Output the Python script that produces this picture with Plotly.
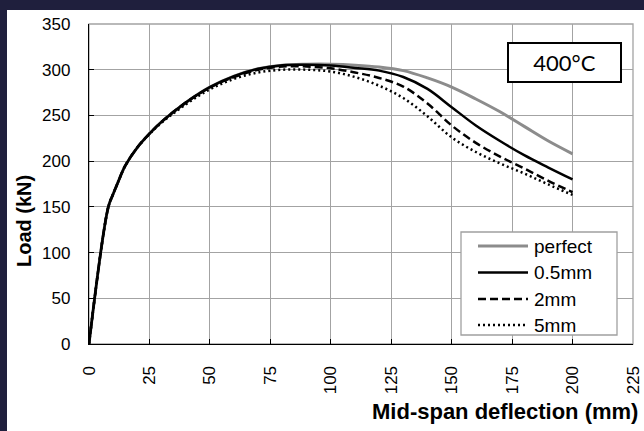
import plotly.graph_objects as go

# Mid-span deflection (mm) sample points shared by all series
deflection = [0, 8, 10, 12, 15, 20, 25, 30, 40, 50, 60, 70, 80, 90, 100,
              110, 120, 130, 140, 150, 160, 170, 180, 190, 200]

# Load (kN) for each imperfection amplitude
load_perfect = [0, 150, 164, 177, 195, 215, 230, 243, 264, 281, 293, 301, 305, 306, 306,
                305, 303, 299, 291, 281, 268, 254, 238, 222, 208]
load_05mm = [0, 150, 164, 177, 195, 215, 230, 243, 264, 281, 293, 301, 305, 305.5, 304.5,
             302, 299, 292, 279, 259, 239, 222, 206.5, 193, 180]
load_2mm = [0, 150, 164, 177, 195, 215, 230, 243, 264, 280.5, 292, 300, 303.5, 303.5, 301.5,
            297, 291, 281.5, 263, 239, 220, 205, 192, 178.5, 166]
load_5mm = [0, 150, 164, 177, 195, 215, 229.5, 242, 262, 278.5, 290, 297, 300, 300, 298,
            292, 282.5, 269, 249, 226, 210, 197.5, 186.5, 174.5, 163]

series_names = ["perfect", "0.5mm", "2mm", "5mm"]
x_ticks = [0, 25, 50, 75, 100, 125, 150, 175, 200, 225]
y_ticks = [0, 50, 100, 150, 200, 250, 300, 350]

FONT = "Liberation Sans, Arial, sans-serif"
GRID = "#a3a3a3"
W, H = 644, 431
ML, MR, MT, MB = 89, 11, 24, 87
PW, PH = W - ML - MR, H - MT - MB


def px_x(px):
    """Pixel column -> paper x."""
    return (px - ML) / PW


def px_y(py):
    """Pixel row -> paper y."""
    return (H - MB - py) / PH


styles = [
    dict(color="#8c8c8c", width=3, dash="solid"),
    dict(color="black", width=2.5, dash="solid"),
    dict(color="black", width=2.5, dash="8px,4px"),
    dict(color="black", width=2.5, dash="2px,3px"),
]

fig = go.Figure()
for name, ys, st in zip(series_names, [load_perfect, load_05mm, load_2mm, load_5mm], styles):
    fig.add_trace(go.Scatter(
        x=deflection, y=ys, name=name, mode="lines",
        line=dict(color=st["color"], width=st["width"], dash=st["dash"],
                  shape="spline", smoothing=1.0),
        showlegend=False,
    ))

axis_common = dict(
    showgrid=True, gridcolor=GRID, gridwidth=1,
    showline=True, linecolor="black", linewidth=1.3,
    ticks="inside", ticklen=5, tickcolor="black", tickwidth=1.3,
    zeroline=False, tickfont=dict(family=FONT, size=17, color="black"),
    automargin=False,
)

fig.update_xaxes(range=[0, 225], tickvals=x_ticks, ticktext=[str(v) for v in x_ticks],
                 tickangle=-90, ticklabelstandoff=14, **axis_common)
fig.update_yaxes(range=[0, 350], tickvals=y_ticks, ticktext=[str(v) for v in y_ticks],
                 ticklabelstandoff=14, **axis_common)

shapes = [
    # dark page edge along the top and left of the chart
    dict(type="rect", xref="paper", yref="paper", x0=px_x(-5), x1=px_x(7), y0=px_y(440), y1=px_y(-5),
         fillcolor="#1f1f3d", line=dict(width=0), layer="below"),
    dict(type="rect", xref="paper", yref="paper", x0=px_x(-5), x1=px_x(650), y0=px_y(10), y1=px_y(-5),
         fillcolor="#1f1f3d", line=dict(width=0), layer="below"),
    # light outer frame of the plot area
    dict(type="rect", xref="paper", yref="paper", x0=0, x1=1, y0=0, y1=1,
         line=dict(color=GRID, width=1.3), layer="below"),
    # legend box
    dict(type="rect", xref="paper", yref="paper", x0=px_x(461), x1=px_x(617), y0=px_y(335), y1=px_y(232),
         fillcolor="white", line=dict(color="#a0a0a0", width=1.3), layer="above"),
]

annotations = [
    dict(text="<b>Load (kN)</b>", xref="paper", yref="paper", x=px_x(24), y=px_y(221),
         textangle=-90, showarrow=False, xanchor="center", yanchor="middle",
         font=dict(family=FONT, size=20, color="black")),
    dict(text="<b>Mid-span deflection (mm)</b>", xref="paper", yref="paper",
         x=px_x(640), y=px_y(411), showarrow=False, xanchor="right", yanchor="middle",
         font=dict(family=FONT, size=22, color="black")),
    dict(text="400°C", xref="paper", yref="paper", x=px_x(564), y=px_y(62),
         showarrow=False, xanchor="center", yanchor="middle",
         font=dict(family="Lato, Carlito, sans-serif", size=22, color="black"),
         bgcolor="white", bordercolor="black", borderwidth=2, borderpad=0,
         width=111, height=37),
]

# legend entries: sample line plus label
legend_rows = [246, 272.5, 299, 325]
for name, st, ry in zip(series_names, styles, legend_rows):
    shapes.append(dict(type="line", xref="paper", yref="paper",
                       x0=px_x(478), x1=px_x(528), y0=px_y(ry), y1=px_y(ry),
                       line=dict(color=st["color"], width=st["width"], dash=st["dash"]),
                       layer="above"))
    annotations.append(dict(text=name, xref="paper", yref="paper", x=px_x(532), y=px_y(ry),
                            showarrow=False, xanchor="left", yanchor="middle",
                            font=dict(family=FONT, size=19, color="black")))

fig.update_layout(
    width=W, height=H,
    margin=dict(l=ML, r=MR, t=MT, b=MB),
    paper_bgcolor="white",
    plot_bgcolor="white",
    font=dict(family=FONT, color="black"),
    showlegend=False,
    shapes=shapes,
    annotations=annotations,
)

fig.write_html("out.html")
